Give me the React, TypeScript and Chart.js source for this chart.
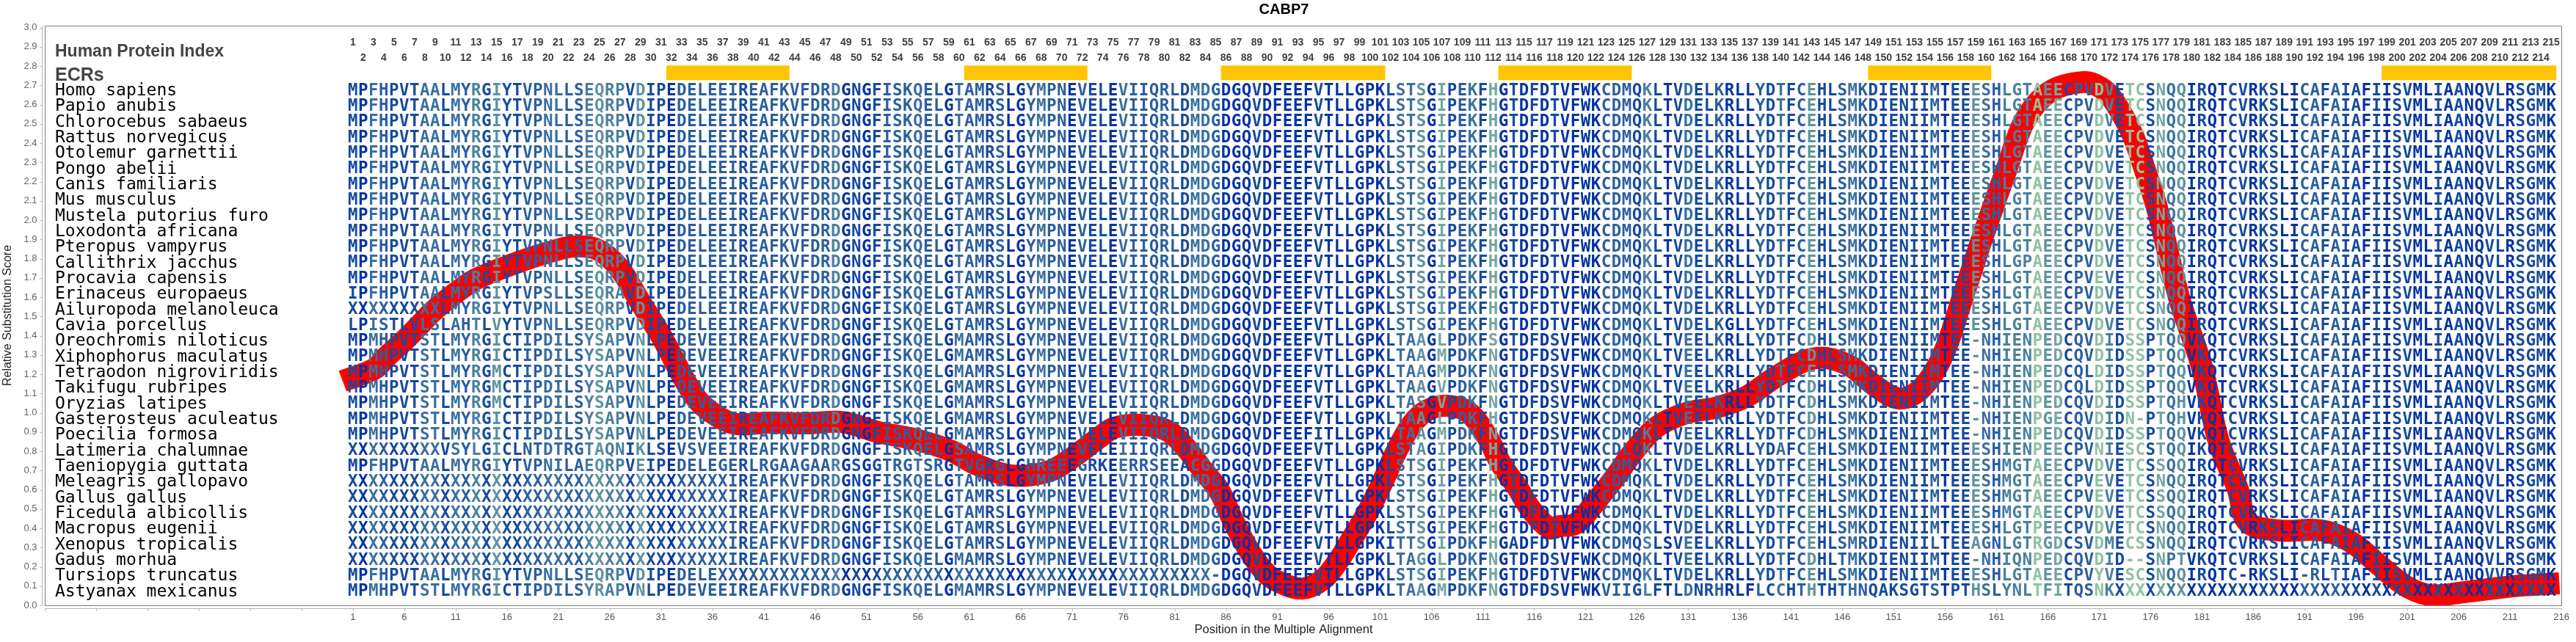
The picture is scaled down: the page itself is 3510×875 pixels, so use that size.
import React, { useEffect, useRef } from "react";
import { Chart, registerables } from "chart.js";

Chart.register(...registerables);

const TITLE = "CABP7";
const X_TITLE = "Position in the Multiple Alignment";
const Y_TITLE = "Relative Substitution Score";
const HEAD_INDEX = "Human Protein Index";
const HEAD_ECRS = "ECRs";

const SPECIES = [
  "Homo sapiens", "Papio anubis", "Chlorocebus sabaeus", "Rattus norvegicus", "Otolemur garnettii",
  "Pongo abelii", "Canis familiaris", "Mus musculus", "Mustela putorius furo", "Loxodonta africana",
  "Pteropus vampyrus", "Callithrix jacchus", "Procavia capensis", "Erinaceus europaeus", "Ailuropoda melanoleuca",
  "Cavia porcellus", "Oreochromis niloticus", "Xiphophorus maculatus", "Tetraodon nigroviridis", "Takifugu rubripes",
  "Oryzias latipes", "Gasterosteus aculeatus", "Poecilia formosa", "Latimeria chalumnae", "Taeniopygia guttata",
  "Meleagris gallopavo", "Gallus gallus", "Ficedula albicollis", "Macropus eugenii", "Xenopus tropicalis",
  "Gadus morhua", "Tursiops truncatus", "Astyanax mexicanus",
];

const SEQ_HUMAN =
  "MPFHPVTAALMYRGIYTVPNLLSEQRPVDIPEDELEEIREAFKVFDRDGNGFISKQELGTAMRSLGYMPNEVELEVIIQRLDMDGDGQVDFEEFVTLLGPKLSTSGIPEKFHGTDFDTVFWKCDMQKLTVDELKRLLYDTFCEHLSMKDIENIIMTEEESHLGTAEECPVDVETCSNQQIRQTCVRKSLICAFAIAFIISVMLIAANQVLRSGMK";
const SEQ_FISH =
  "MPMHPVTSTLMYRGICTIPDILSYSAPVNLPEDEVEEIREAFKVFDRDGNGFISKQELGMAMRSLGYMPNEVELEVIIQRLDMDGDGQVDFEEFVTLLGPKLTAAGMPDKFNGTDFDSVFWKCDMQKLTVEELKRLLYDTFCDHLSMKDIENIIMTEE-NHIENPEDCQVDIDSSPTQQVKQTCVRKSLICAFAIAFIISVMLIAANQVLRSGMK";

// H = human-like row, F = fish-like row, one letter per species
const ROW_BASE = "HHHHHHHHHHHHHHHHFFFFFFFHHHHHHHFHF";
const X37 = "XXXXXXXXXXXXXXXXXXXXXXXXXXXXXXXXXXXXX";
const X48 = "XXXXXXXXXXXXXXXXXXXXXXXXXXXXXXXXXXXXXXXXXXXXXXXX";
const X43 = "XXXXXXXXXXXXXXXXXXXXXXXXXXXXXXXXXXXXXXXXXXX";

// species row -> [alignment column, replacement letters]
const ROW_EDITS: Record<number, [number, string][]> = {
  11: [[164, "P"]],
  12: [[171, "E"]],
  13: [[1, "I"], [20, "S"], [27, "A"]],
  14: [[1, "XXXXXXXXX"]],
  15: [[1, "LPISTLVLSLAHTLV"], [135, "G"]],
  16: [[107, "L"], [112, "S"]],
  18: [[15, "M"], [143, "E"], [170, "L"]],
  19: [[15, "M"], [107, "V"], [170, "L"]],
  20: [[15, "M"], [105, "S"], [107, "V"], [179, "H"]],
  21: [[107, "L"], [112, "H"], [166, "GE"], [174, "N-"], [179, "H"]],
  22: [[95, "I"]],
  23: [
    [1, "XXXXXXXXXVSYLGICLNTDTRGTAQNIKLSEVSV"], [60, "S"], [76, "I"], [105, "A"], [109, "D"],
    [125, "L"], [140, "A"], [159, "ESHIENPEECPVNIESCSTQQIK"],
  ],
  24: [[21, "I"], [23, "A"], [29, "E"], [37, "GERLRGAAGAARGSGGTRGTSRGTVGRGLGHREEEGRKEERRSEEACGG"], [162, "M"], [177, "S"]],
  25: [[1, X37], [162, "M"], [171, "E"]],
  26: [[1, X37], [162, "M"], [171, "E"], [177, "S"]],
  27: [[1, X37], [162, "M"], [177, "S"]],
  28: [[1, X37], [165, "P"]],
  29: [[1, X37], [102, "ITT"], [109, "D"], [114, "A"], [127, "SLSVE"], [148, "R"], [155, "L"], [159, "AGNLGTRGDCSVDMECSSN"]],
  30: [[1, X37], [105, "G"], [107, "L"], [146, "T"], [163, "QNPEDCQVDID--SNPTVK"]],
  31: [[37, X48], [85, "-"], [171, "Y"], [174, "S"], [185, "-"], [191, "-RLT"], [210, "V"]],
  32: [[25, "R"], [123, "VIIGLFTLDNRHRLFLCCHTHTHTHNQAKSGTSTPTHSLYNLTFITQSNK"], [173, X43]],
};

// per-column conservation shade, 0 (deep blue) .. 7 (pale green)
const COLUMN_SHADE =
  "1032111331" + "3241511223" + "3224544151" + "1022222212" + "2222222401" +
  "0122232203" + "2212002322" + "0211032222" + "2133200010" + "0000100000" +
  "0133506123" + "1601010100" + "0022214101" + "3112000213" + "1251123211" +
  "1111201153" + "2444756122" + "7417716350" + "1001101100" + "2212110101" +
  "1001010011" + "01110";
const SHADE_COLORS = ["#0433a3", "#164a9f", "#2b5e9f", "#3a6fa0", "#4a7fa0", "#5e92a0", "#74a6a0", "#8fc2a0"];

const ECR_FROM = [31.5, 60.5, 85.5, 112.5, 148.5, 198.5];
const ECR_TO = [43.5, 72.5, 101.5, 125.5, 160.5, 215.5];

const CURVE_POS = [
  0, 3.07, 4.28, 6, 7.5, 8.9, 11.4, 13, 16.6, 19.8, 22.5, 24.8, 26.9, 28.9, 31.1, 33.5, 35.1, 38, 41.5, 45.1, 48.6,
  52.2, 55.8, 59.3, 61.7, 65.2, 68.8, 71.2, 73.6, 75.1, 77.6, 80.3, 82.05, 83.8, 85.3, 86.7, 88.1, 89.6, 91, 93.4,
  95.4, 96.9, 98.3, 99.8, 101.2, 102.6, 104.1, 105.6, 107.5, 109.6, 111.4, 112.8, 114.3, 115.7, 117.5, 118.4, 120.1,
  122.2, 123.9, 125.6, 127.9, 130.8, 133.8, 136.7, 139.6, 142.5, 144.5, 146.9, 149.1, 151.5, 153.5, 155.3, 156.4,
  157.6, 159.8, 162, 163.8, 166.2, 169.5, 171.2, 172.4, 174.2, 175.4, 176.7, 178.8, 181, 182.6, 184.5, 185.5, 188.7,
  191.9, 193.6, 195.9, 198.4, 201, 203.3, 206.5, 211.3, 215.8,
];
const CURVE_SCORE = [
  1.164, 1.227, 1.291, 1.375, 1.456, 1.532, 1.638, 1.695, 1.772, 1.829, 1.863, 1.848, 1.753, 1.581, 1.39, 1.151,
  1.036, 0.945, 0.949, 0.945, 0.952, 0.899, 0.861, 0.801, 0.731, 0.674, 0.697, 0.773, 0.869, 0.922, 0.937, 0.907,
  0.82, 0.697, 0.598, 0.438, 0.297, 0.183, 0.125, 0.087, 0.133, 0.229, 0.35, 0.484, 0.636, 0.801, 0.941, 1.013,
  1.036, 1.002, 0.877, 0.731, 0.617, 0.496, 0.4, 0.411, 0.426, 0.553, 0.667, 0.793, 0.926, 0.998, 1.028, 1.085,
  1.189, 1.272, 1.284, 1.238, 1.143, 1.074, 1.117, 1.246, 1.383, 1.581, 1.935, 2.267, 2.522, 2.668, 2.717, 2.687,
  2.621, 2.45, 2.27, 2.05, 1.593, 1.238, 0.857, 0.602, 0.43, 0.388, 0.392, 0.377, 0.316, 0.202, 0.095, 0.053,
  0.068, 0.099, 0.114,
];

const Y_ROW_FIRST = 2.671;
const Y_ROW_STEP = 0.08127;
const Y_ODD_INDEX = 2.92;
const Y_EVEN_INDEX = 2.84;
const Y_HEAD_INDEX = 2.873;
const Y_HEAD_ECRS = 2.751;
const Y_ECR = 2.765;
const X_NAMES = -28.0;
const X_TITLE_AT = 91.6;

function rowSequence(i: number): string {
  let s = ROW_BASE[i] === "F" ? SEQ_FISH : SEQ_HUMAN;
  for (const [col, text] of ROW_EDITS[i] || []) {
    s = s.slice(0, col - 1) + text + s.slice(col - 1 + text.length);
  }
  return s;
}

const alignmentPlugin = {
  id: "alignment",
  beforeDatasetsDraw(chart: any) {
    const { ctx, chartArea: a, scales } = chart;
    const { x, y } = scales;
    ctx.save();
    // plot frame
    ctx.strokeStyle = "#808080";
    ctx.lineWidth = 1;
    ctx.strokeRect(Math.round(a.left) + 0.5, Math.round(a.top) + 0.5, Math.round(a.right - a.left), Math.round(a.bottom - a.top));
    // offset axis lines with ticks
    ctx.strokeStyle = "#b4b4b4";
    ctx.beginPath();
    ctx.moveTo(a.left - 3.5, a.top);
    ctx.lineTo(a.left - 3.5, a.bottom);
    for (const t of y.ticks) {
      const p = Math.round(y.getPixelForValue(t.value)) + 0.5;
      ctx.moveTo(a.left - 3.5, p);
      ctx.lineTo(a.left - 6.5, p);
    }
    ctx.moveTo(a.left, a.bottom + 4.5);
    ctx.lineTo(a.right, a.bottom + 4.5);
    for (const t of x.ticks) {
      const p = Math.round(x.getPixelForValue(t.value)) + 0.5;
      ctx.moveTo(p, a.bottom + 4.5);
      ctx.lineTo(p, a.bottom + 7.5);
    }
    ctx.stroke();
    ctx.restore();
  },
  afterDatasetsDraw(chart: any) {
    const { ctx, scales } = chart;
    const { x, y } = scales;
    ctx.save();
    ctx.textBaseline = "middle";

    // headings
    ctx.textAlign = "left";
    ctx.fillStyle = "#444444";
    ctx.font = "bold 23px 'Liberation Sans'";
    ctx.fillText(HEAD_INDEX, x.getPixelForValue(X_NAMES), y.getPixelForValue(Y_HEAD_INDEX));
    ctx.font = "bold 25px 'Liberation Sans'";
    ctx.fillText(HEAD_ECRS, x.getPixelForValue(X_NAMES), y.getPixelForValue(Y_HEAD_ECRS));

    // alignment index numbers
    ctx.textAlign = "center";
    ctx.font = "bold 14px 'Liberation Sans'";
    ctx.fillStyle = "#404040";
    for (let c = 1; c <= SEQ_HUMAN.length; c++) {
      ctx.fillText(String(c), x.getPixelForValue(c), y.getPixelForValue(c % 2 ? Y_ODD_INDEX : Y_EVEN_INDEX));
    }

    SPECIES.forEach((name, i) => {
      const py = y.getPixelForValue(Y_ROW_FIRST - Y_ROW_STEP * i);
      ctx.textAlign = "left";
      ctx.font = "23px 'DejaVu Sans Mono'";
      ctx.fillStyle = "#000000";
      ctx.fillText(name, x.getPixelForValue(X_NAMES), py);
      ctx.textAlign = "center";
      ctx.font = "bold 22.5px 'DejaVu Sans Mono'";
      const seq = rowSequence(i);
      for (let c = 0; c < seq.length; c++) {
        ctx.fillStyle = SHADE_COLORS[Number(COLUMN_SHADE[c])];
        ctx.fillText(seq[c], x.getPixelForValue(c + 1), py);
      }
    });

    // x axis title
    ctx.textAlign = "center";
    ctx.font = "16.5px 'Liberation Sans'";
    ctx.fillStyle = "#222222";
    ctx.fillText(X_TITLE, x.getPixelForValue(X_TITLE_AT), chart.height - 17);
    ctx.restore();
  },
};

export default function App() {
  const ref = useRef<HTMLCanvasElement>(null);
  useEffect(() => {
    const ecrSets = ECR_FROM.map((from, k) => ({
      label: "ECR " + (k + 1),
      data: [{ x: from, y: Y_ECR }, { x: ECR_TO[k], y: Y_ECR }],
      showLine: true,
      borderColor: "#ffc404",
      borderWidth: 20,
      borderCapStyle: "butt",
      pointRadius: 0,
    }));
    const chart = new Chart(ref.current as HTMLCanvasElement, {
      type: "scatter",
      data: {
        datasets: [
          ...ecrSets,
          {
            label: "Relative Substitution Score",
            data: CURVE_POS.map((p, i) => ({ x: p, y: CURVE_SCORE[i] })),
            showLine: true,
            borderColor: "#ff0000",
            borderWidth: 30,
            borderCapStyle: "butt",
            borderJoinStyle: "round",
            tension: 0.35,
            pointRadius: 0,
          },
        ],
      } as any,
      options: {
        animation: false,
        responsive: false,
        layout: { padding: { left: 0, right: 11, top: 0, bottom: 0 } },
        plugins: {
          legend: { display: false },
          tooltip: { enabled: false },
          title: {
            display: true,
            text: TITLE,
            color: "#000000",
            font: { family: "'Liberation Sans'", size: 20, weight: "bold", lineHeight: 1.2 },
            padding: { top: 1, bottom: 10 },
          },
        },
        scales: {
          x: {
            type: "linear",
            min: -29,
            max: 216,
            grid: { display: false, drawTicks: false },
            border: { display: false },
            ticks: {
              stepSize: 5,
              autoSkip: false,
              maxRotation: 0,
              includeBounds: false,
              padding: 9,
              color: "#555555",
              font: { family: "'Liberation Sans'", size: 13 },
              callback: (v: any) => (Number(v) >= 1 ? String(v) : ""),
            },
            afterFit: (s: any) => {
              s.height = 50;
            },
          },
          y: {
            type: "linear",
            min: 0,
            max: 3.01,
            grid: { display: false, drawTicks: false },
            border: { display: false },
            title: {
              display: true,
              text: Y_TITLE,
              color: "#222222",
              font: { family: "'Liberation Sans'", size: 16 },
              padding: { top: 1, bottom: 0 },
            },
            ticks: {
              stepSize: 0.1,
              autoSkip: false,
              includeBounds: false,
              padding: 10.5,
              color: "#666666",
              font: { family: "'Liberation Sans'", size: 13 },
              callback: (v: any) => Number(v).toFixed(1),
            },
            afterFit: (s: any) => {
              s.width = 61;
            },
          },
        },
      },
      plugins: [alignmentPlugin],
    } as any);
    return () => chart.destroy();
  }, []);
  return (
    <canvas
      ref={ref}
      width={3510}
      height={875}
      style={{ position: "absolute", left: 0, top: 0, width: 3510, height: 875, display: "block" }}
    />
  );
}
